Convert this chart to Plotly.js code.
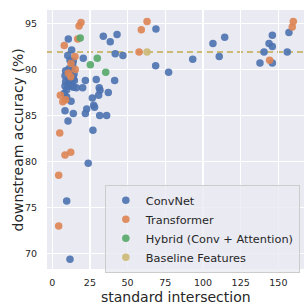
<!DOCTYPE html>
<html>
<head>
<meta charset="utf-8">
<script src="https://cdn.plot.ly/plotly-3.0.1.min.js"></script>
<style>html,body{margin:0;padding:0;background:#fff;}#chart{width:306px;height:304px;}</style>
</head>
<body>
<div id="chart"></div>
<script>
// ConvNet
const convX = [68.8,68.6,77.2,93.2,106.6,114.4,110.8,137.8,140.5,143.8,146,146,146,155.9,157,
  33.9,38.5,43,41.8,46.9,41.4,37.2,31.2,31.7,30.8,29.2,26.6,28.1,31.5,36.1,27,22.9,22,22,20.2,16,20.6,23.9,9.6,11.8,27.5,
  10.7,12.9,10.3,11.8,14,14,8.5,12.5,10.5,13.6,
  8.9,11.3,13.1,14.5,8.5,14,8.9,11.1,12.9,14.7,8.5,10.7,12.9,14,9.6,8,9.6];
const convY = [94.4,90.4,89.7,91.1,92.8,93.5,91.4,90.7,91.9,92.8,93.7,92.5,90.7,91.9,94.0,
  93.6,93.0,93.8,91.7,91.5,88.8,87.5,88.0,87.75,87.2,88.9,86.9,85.9,85.0,85.0,83.4,85.7,85.2,88.8,88.0,88.0,91.2,79.8,75.7,69.4,86.1,
  93.3,92.1,91.5,91.0,90.9,85.2,85.5,86.55,84.4,90.5,
  89.85,90.1,89.85,89.5,89.3,89.1,88.7,88.65,88.65,88.8,88.2,88.2,88.2,88.05,87.8,87.4,87.0];
// Transformer
const transX = [19.1,17.8,8.0,16.9,15.1,12.5,15.3,10.7,12.3,5.4,8.9,7.0,5.0,8.5,12.3,4.3,4.3,62.9,59.1,57.6,144.2,159.2,159.9];
const transY = [95.1,94.7,92.6,93.3,91.4,90.65,90.0,89.6,89.2,87.2,86.7,86.5,83.1,80.7,81.0,78.5,73.0,95.2,94.3,91.9,91.0,94.6,95.2];
// Hybrid (Conv + Attention)
const hybX = [18.6,25.3,29.9,35.5];
const hybY = [93.4,90.5,91.2,89.7];
// Baseline Features
const baseX = [62.9];
const baseY = [91.9];
const baselineLevel = 91.9;

const names = ['ConvNet','Transformer','Hybrid (Conv + Attention)','Baseline Features'];
const colors = ['#4C72B0','#DD8452','#55A868','#CCB974'];
const xs = [convX, transX, hybX, baseX];
const ys = [convY, transY, hybY, baseY];

const traces = xs.map((x, i) => ({
  type: 'scatter', mode: 'markers', x: x, y: ys[i], name: names[i],
  marker: {color: colors[i], size: 7.5, opacity: 0.9, line: {width: 0}},
  hoverinfo: 'skip'
}));

const font = 'DejaVu Sans, sans-serif';
const layout = {
  width: 306, height: 304,
  margin: {l: 47, r: 2, t: 10, b: 35},
  paper_bgcolor: '#ffffff', plot_bgcolor: '#EAEAF2',
  showlegend: true,
  font: {family: font, color: '#262626'},
  xaxis: {
    range: [-3.45, 167], tickvals: [0,25,50,75,100,125,150],
    showgrid: true, gridcolor: '#ffffff', gridwidth: 1.2, zeroline: false,
    showline: false, ticks: 'outside', ticklen: 5, tickcolor: 'rgba(0,0,0,0)',
    tickfont: {size: 9.5, color: '#262626'}
  },
  yaxis: {
    range: [68.33, 96.45], tickvals: [70,75,80,85,90,95],
    showgrid: true, gridcolor: '#ffffff', gridwidth: 1.2, zeroline: false,
    showline: false, ticks: 'outside', ticklen: 7, tickcolor: 'rgba(0,0,0,0)',
    tickfont: {size: 9.5, color: '#262626'}
  },
  annotations: [
    {text: 'standard intersection', xref: 'paper', yref: 'paper', x: 0.5, y: -0.109,
     xanchor: 'center', yanchor: 'middle', showarrow: false, font: {size: 14, color: '#262626'}},
    {text: 'downstream accuracy (%)', xref: 'paper', yref: 'paper', x: -0.113, y: 0.5,
     xanchor: 'center', yanchor: 'middle', textangle: -90, showarrow: false, font: {size: 14, color: '#262626'}}
  ],
  shapes: [{
    type: 'line', xref: 'paper', x0: 0, x1: 1, yref: 'y', y0: baselineLevel, y1: baselineLevel,
    line: {color: '#CCB974', width: 2, dash: '6px,4px'}, layer: 'below'
  }],
  legend: {
    x: 0.225, y: 0.325, xanchor: 'left', yanchor: 'top',
    bgcolor: 'rgba(234,234,242,0.8)', bordercolor: '#cccccc', borderwidth: 1,
    font: {size: 11.3, color: '#262626'}, itemwidth: 30, tracegroupgap: 0
  }
};

Plotly.newPlot('chart', traces, layout, {displayModeBar: false, staticPlot: true});
</script>
</body>
</html>
